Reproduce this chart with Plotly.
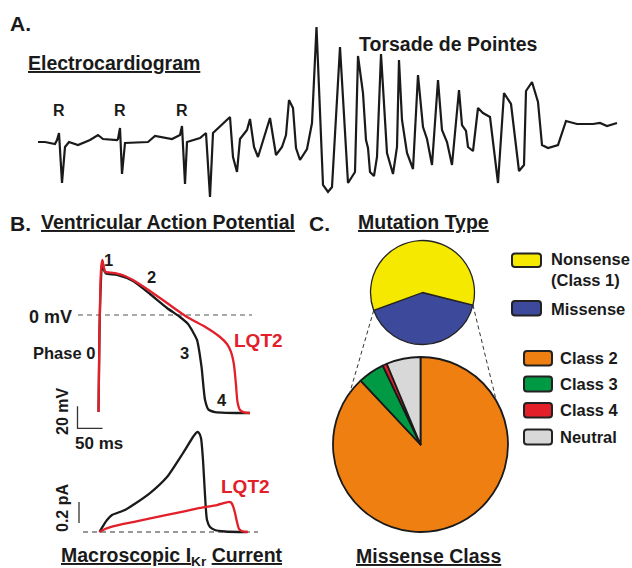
import math
import plotly.graph_objects as go

W, H = 632, 568
FONT = "Liberation Sans, Arial, sans-serif"
INK = "#1a1a1a"
RED = "#E3202A"

# ---------------- Panel A: ECG (arbitrary units) ----------------
ecg_t = [0, 7, 17, 19, 21, 24, 27, 31, 40, 52, 60, 65, 79, 80, 82, 84, 87, 110, 117, 122,
         134, 142, 144, 147, 149, 162, 168, 172, 175, 192, 195, 199, 202, 209, 212, 216, 220,
         232, 238, 244, 248, 251, 255, 258, 262, 269, 274, 278.5, 285, 290, 294, 302, 310,
         317, 320, 325, 328, 330, 332, 336, 339, 343, 349, 355, 359, 361, 364, 369, 375, 380,
         385, 389, 394, 400, 404, 409, 414, 421, 424, 428, 430, 435, 440, 445, 452, 460, 466,
         473, 481, 486, 488, 494, 500, 504, 510, 520, 528, 539, 555, 562, 569, 579]
ecg_v = [0, 0, -2, 2, 9, -41, -5, 0, -3, 2, 7, 3, 2, 3, 14, -32, -1, 0, 6, 5,
         3, 7, 16, -42, 0, 4, 9, -55, 9, 25, -15, -30, 3, 12, 23, -5, -15,
         24, -13, -5, 7, 42, 34, -6, -18, -7, 19, 115, -43, -50, -45, 95, -41,
         -30, 86, 49, 2, -6, -30, -34, -15, 88, -11, -32, -5, 82, 22, -11, -27, 67,
         15, 3, -23, 62, 12, 0, -23, 52, 17, 11, -5, -9, 34, 29, 25, -41, 49,
         38, -29, -23, 51, 60, 40, -3, -6, -3, 21, 18, 18, 19, 16, 19]
r_wave_t = [21, 82, 144]
r_wave_v = [21, 21, 21]

# ---------------- Panel B: action potential (ms, mV) ----------------
ap_wt_t = [-1, 1, 5, 7, 10, 14, 36, 68, 102, 136, 162, 178, 188, 196, 205, 212, 219, 232, 302]
ap_wt_v = [-88, -13.6, 40.9, 49, 40.9, 37.7, 36.4, 30.9, 19.1, 6.4, -1.8, -8.2, -15.5,
           -22.7, -47, -77, -86, -88.2, -89.1]
ap_lqt2_t = [-1, 1, 4, 6.6, 10, 13, 22, 36, 52, 68, 102, 136, 176, 216, 242, 256, 264, 270,
             274, 277, 282, 290, 302]
ap_lqt2_v = [-88.2, -13.6, 40.9, 50, 42.7, 39.1, 38.6, 37.7, 35.5, 31.8, 21.8, 10.9, -1.8,
             -11.8, -20, -26.4, -33.6, -45.5, -63.6, -79.1, -86.4, -88.6, -89.1]

# ---------------- Panel B: macroscopic IKr (ms, pA) ----------------
ikr_wt_t = [1, 8, 16, 26, 36, 52, 68, 102, 136, 168, 188, 196, 200, 204, 208, 212, 216, 222,
            232, 252, 296]
ikr_wt_i = [0, 0.057, 0.114, 0.162, 0.181, 0.21, 0.257, 0.371, 0.524, 0.752, 0.905, 0.952,
            0.943, 0.895, 0.686, 0.352, 0.114, 0.048, 0.019, 0.005, 0]
ikr_lqt2_t = [1, 12, 26, 68, 136, 202, 236, 260, 264, 268, 272, 276, 280, 288, 298]
ikr_lqt2_i = [0, 0.029, 0.052, 0.095, 0.162, 0.229, 0.257, 0.286, 0.281, 0.248, 0.181,
              0.095, 0.029, 0.005, 0]

scale_mv, scale_ms, scale_pa = 20, 50, 0.2

# ---------------- Panel C: pies ----------------
mutation_labels = ["Missense", "Nonsense<br>(Class 1)"]
mutation_values = [40.5, 59.5]
mutation_colors = ["#3D4A9B", "#F5E900"]

missense_labels = ["Class 2", "Class 3", "Class 4", "Neutral"]
missense_values = [88.0, 4.9, 0.8, 6.3]
missense_colors = ["#F07F12", "#009A44", "#E3202A", "#D8D8D8"]


def px(x):
    return x / W


def py(y):
    return 1 - y / H


fig = go.Figure()

# ECG
fig.add_trace(go.Scatter(x=ecg_t, y=ecg_v, mode="lines", xaxis="x", yaxis="y",
                         line=dict(color=INK, width=2.2), hoverinfo="skip", showlegend=False))

# AP
fig.add_trace(go.Scatter(x=[-42, 306], y=[0, 0], mode="lines", xaxis="x2", yaxis="y2",
                         line=dict(color="#555", width=1.2, dash="5px,4px"),
                         hoverinfo="skip", showlegend=False))
sb_t0, sb_v0 = -43, -103
fig.add_trace(go.Scatter(x=[sb_t0, sb_t0, sb_t0 + scale_ms], y=[sb_v0 + scale_mv, sb_v0, sb_v0],
                         mode="lines", xaxis="x2", yaxis="y2",
                         line=dict(color="#333", width=1.3), hoverinfo="skip", showlegend=False))
fig.add_trace(go.Scatter(x=ap_wt_t, y=ap_wt_v, mode="lines", xaxis="x2", yaxis="y2",
                         line=dict(color=INK, width=2.3, shape="spline", smoothing=0.6),
                         hoverinfo="skip", showlegend=False))
fig.add_trace(go.Scatter(x=ap_lqt2_t, y=ap_lqt2_v, mode="lines", xaxis="x2", yaxis="y2",
                         line=dict(color=RED, width=2.3, shape="spline", smoothing=0.6),
                         hoverinfo="skip", showlegend=False))

# IKr
fig.add_trace(go.Scatter(x=[-32, 318], y=[0, 0], mode="lines", xaxis="x2", yaxis="y3",
                         line=dict(color="#333", width=1.2, dash="5px,4px"),
                         hoverinfo="skip", showlegend=False))
fig.add_trace(go.Scatter(x=[-40, -40], y=[0.086, 0.086 + scale_pa], mode="lines",
                         xaxis="x2", yaxis="y3", line=dict(color="#333", width=1.3),
                         hoverinfo="skip", showlegend=False))
fig.add_trace(go.Scatter(x=ikr_wt_t, y=ikr_wt_i, mode="lines", xaxis="x2", yaxis="y3",
                         line=dict(color=INK, width=2.3, shape="spline", smoothing=0.6),
                         hoverinfo="skip", showlegend=False))
fig.add_trace(go.Scatter(x=ikr_lqt2_t, y=ikr_lqt2_i, mode="lines", xaxis="x2", yaxis="y3",
                         line=dict(color=RED, width=2.3, shape="spline", smoothing=0.6),
                         hoverinfo="skip", showlegend=False))

# Pies
top_c, top_r = (422.5, 292.5), 52
bot_c, bot_r = (420.5, 444.5), 87.5
miss_frac = mutation_values[0] / sum(mutation_values)
top_rot = 104

fig.add_trace(go.Pie(values=mutation_values, labels=mutation_labels, sort=False,
                     direction="clockwise", rotation=top_rot, textinfo="none",
                     hoverinfo="skip", showlegend=False,
                     marker=dict(colors=mutation_colors, line=dict(color="#222", width=1.3)),
                     domain=dict(x=[px(top_c[0] - top_r), px(top_c[0] + top_r)],
                                 y=[py(top_c[1] + top_r), py(top_c[1] - top_r)])))
fig.add_trace(go.Pie(values=missense_values, labels=missense_labels, sort=False,
                     direction="clockwise", rotation=0, textinfo="none",
                     hoverinfo="skip", showlegend=False,
                     marker=dict(colors=missense_colors, line=dict(color="#1a1a1a", width=1.8)),
                     domain=dict(x=[px(bot_c[0] - bot_r), px(bot_c[0] + bot_r)],
                                 y=[py(bot_c[1] + bot_r), py(bot_c[1] - bot_r)])))


def on_circle(c, r, clock_deg):
    a = math.radians(clock_deg)
    return c[0] + r * math.sin(a), c[1] - r * math.cos(a)


shapes = []
# connector dashed lines from the missense slice to the lower pie
for start_deg, end_deg in [(top_rot + 360 * miss_frac, 306), (top_rot, 60)]:
    x0, y0 = on_circle(top_c, top_r, start_deg)
    x1, y1 = on_circle(bot_c, bot_r, end_deg)
    shapes.append(dict(type="line", xref="paper", yref="paper", x0=px(x0), y0=py(y0),
                       x1=px(x1), y1=py(y1), line=dict(color="#333", width=1, dash="4px,3px")))


def rrect(x0, y0, x1, y1, r=3):
    return (f"M {px(x0 + r)} {py(y0)} L {px(x1 - r)} {py(y0)} Q {px(x1)} {py(y0)} {px(x1)} {py(y0 + r)} "
            f"L {px(x1)} {py(y1 - r)} Q {px(x1)} {py(y1)} {px(x1 - r)} {py(y1)} "
            f"L {px(x0 + r)} {py(y1)} Q {px(x0)} {py(y1)} {px(x0)} {py(y1 - r)} "
            f"L {px(x0)} {py(y0 + r)} Q {px(x0)} {py(y0)} {px(x0 + r)} {py(y0)} Z")


annotations = []
# legend for mutation type (Nonsense first, then Missense)
leg1 = [(mutation_labels[1], mutation_colors[1], 253.5, 267, 270),
        (mutation_labels[0], mutation_colors[0], 301, 315.5, 308.5)]
for lab, col, y0, y1, ty in leg1:
    shapes.append(dict(type="path", xref="paper", yref="paper", path=rrect(512, y0, 541, y1),
                       fillcolor=col, line=dict(color="#222", width=2)))
    annotations.append(dict(x=px(549), y=py(ty), xref="paper", yref="paper", text=f"<b>{lab}</b>",
                            showarrow=False, xanchor="left", yanchor="middle", align="left",
                            font=dict(family=FONT, size=16.5, color=INK)))
leg2_y = [(351, 365.5), (376.5, 391.5), (403, 417.5), (429.5, 444.5)]
for lab, col, (y0, y1) in zip(missense_labels, missense_colors, leg2_y):
    shapes.append(dict(type="path", xref="paper", yref="paper", path=rrect(524, y0, 552, y1),
                       fillcolor=col, line=dict(color="#222", width=2)))
    annotations.append(dict(x=px(558), y=py((y0 + y1) / 2), xref="paper", yref="paper",
                            text=f"<b>{lab}</b>", showarrow=False, xanchor="left",
                            yanchor="middle", font=dict(family=FONT, size=16.5, color=INK)))


def txt(s, x, y, size, color=INK, xanchor="left", angle=0):
    annotations.append(dict(x=px(x), y=py(y), xref="paper", yref="paper", text=s,
                            showarrow=False, xanchor=xanchor, yanchor="middle", textangle=angle,
                            font=dict(family=FONT, size=size, color=color)))


txt("<b>A.</b>", 8, 23, 21)
txt("<b><u>Electrocardiogram</u></b>", 26, 63, 19.5)
txt("<b>Torsade de Pointes</b>", 357, 44, 19.5)
for t, v in zip(r_wave_t, r_wave_v):
    annotations.append(dict(x=t, y=v, xref="x", yref="y", text="<b>R</b>", showarrow=False,
                            yanchor="bottom", font=dict(family=FONT, size=16, color=INK)))
txt("<b>B.</b>", 8, 223, 21)
txt("<b><u>Ventricular Action Potential</u></b>", 39, 222, 19.5)
txt("<b>C.</b>", 307, 223, 21)
txt("<b><u>Mutation Type</u></b>", 356, 222, 19.5)
txt("<b>1</b>", 108, 260, 16.5, xanchor="center")
txt("<b>2</b>", 151, 277, 16.5, xanchor="center")
txt("<b>0 mV</b>", 27, 317, 18)
txt("<b>Phase 0</b>", 31, 353, 16.5)
txt("<b>3</b>", 184, 353, 16.5, xanchor="center")
txt("<b>LQT2</b>", 232, 340, 19, color=RED)
txt("<b>4</b>", 222, 400, 16.5, xanchor="center")
txt("<b>20 mV</b>", 62, 412, 16, xanchor="center", angle=-90)
txt("<b>50 ms</b>", 73, 443, 17)
txt("<b>LQT2</b>", 219, 486, 19, color=RED)
txt("<b>0.2 pA</b>", 62, 508, 16, xanchor="center", angle=-90)
txt("<b><u>Macroscopic I</u><sub>Kr</sub> <u>Current</u></b>", 59, 556, 19.5)
txt("<b><u>Missense Class</u></b>", 354, 556, 19.5)

ax_common = dict(visible=False, fixedrange=True, showgrid=False, zeroline=False)
fig.update_layout(
    width=W, height=H, margin=dict(l=0, r=0, t=0, b=0),
    paper_bgcolor="white", plot_bgcolor="rgba(0,0,0,0)",
    xaxis=dict(domain=[0, 1], range=[-38, W - 38], anchor="y", **ax_common),
    yaxis=dict(domain=[0, 1], range=[142 - H, 142], anchor="x", **ax_common),
    xaxis2=dict(domain=[0, 1], range=[-2 * 99, 2 * (W - 99)], anchor="y2", **ax_common),
    yaxis2=dict(domain=[0, 1], range=[-(H - 315) / 1.1, 315 / 1.1], anchor="x2", **ax_common),
    yaxis3=dict(domain=[0, 1], range=[-(H - 532) / 105, 532 / 105], anchor="x2",
                overlaying="y2", **ax_common),
    shapes=shapes, annotations=annotations, showlegend=False,
)

fig.write_html("out.html", config={"displayModeBar": False},
               post_script="document.body.style.margin='0px';document.body.style.overflow='hidden';")
